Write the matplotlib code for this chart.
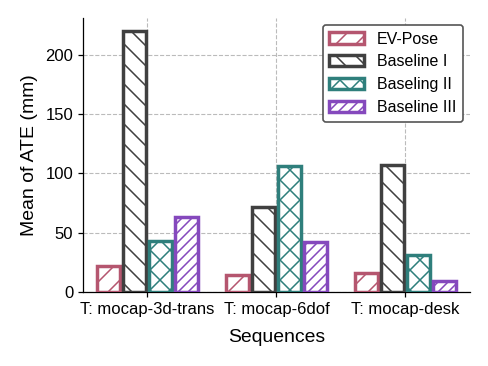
import numpy as np
import matplotlib
matplotlib.use("Agg")
from matplotlib import pyplot as plt

# hatch spacing in matplotlib follows the dpi, so render at 120 dpi and
# scale every point size by k to keep the pixel sizes
DPI = 120
k = 100.0 / DPI

plt.rcParams['font.family'] = ['Liberation Sans', 'DejaVu Sans']
plt.rcParams['hatch.linewidth'] = 1.1 * k
plt.rcParams['axes.linewidth'] = 0.9 * k
for ax_name in ['xtick', 'ytick']:
    plt.rcParams[ax_name + '.major.size'] = 3.5 * k
    plt.rcParams[ax_name + '.major.width'] = 0.9 * k
    plt.rcParams[ax_name + '.major.pad'] = 3.5 * k

sequences = ["T: mocap-3d-trans", "T: mocap-6dof", "T: mocap-desk"]
methods = ["EV-Pose", "Baseline I", "Baseling II", "Baseline III"]
ev_pose = [22, 14, 16]
baseline_1 = [220, 72, 107]
baseline_2 = [43, 106, 31]
baseline_3 = [63, 42, 9]

colors = ["#b5566f", "#404040", "#2f7f7c", "#8549bd"]
hatches = ["//", "\\\\", "xx", "////"]

fig, ax = plt.subplots(figsize=(488.0 / DPI, 366.0 / DPI), dpi=DPI)
fig.subplots_adjust(left=0.170, right=0.963, bottom=0.202, top=0.951)

x = np.arange(len(sequences))
width = 0.18
allValues = [ev_pose, baseline_1, baseline_2, baseline_3]
for i, vals in enumerate(allValues):
    ax.bar(x + (i - 1.5) * 0.2, vals, width, facecolor="white",
           edgecolor=colors[i], hatch=hatches[i], linewidth=2.5 * k,
           label=methods[i], zorder=3)

ax.set_xticks(x)
ax.set_xticklabels(sequences, fontsize=12 * k)
ax.set_xlim(-0.5, 2.5)
ax.set_ylim(0, 231)
ax.set_yticks([0, 50, 100, 150, 200])
ax.tick_params(axis='y', labelsize=12 * k)
ax.set_xlabel("Sequences", fontsize=14 * k, labelpad=9 * k)
ax.set_ylabel("Mean of ATE (mm)", fontsize=14 * k, labelpad=5 * k)
ax.grid(True, linestyle="--", color="#bbbbbb", linewidth=0.8 * k, zorder=0)
ax.spines['top'].set_visible(False)
ax.spines['right'].set_visible(False)
ax.legend(loc="upper right", fontsize=11.5 * k, handlelength=2.2, edgecolor="#555555",
          framealpha=1, borderaxespad=0.45)

plt.savefig("out.png", dpi=DPI)
